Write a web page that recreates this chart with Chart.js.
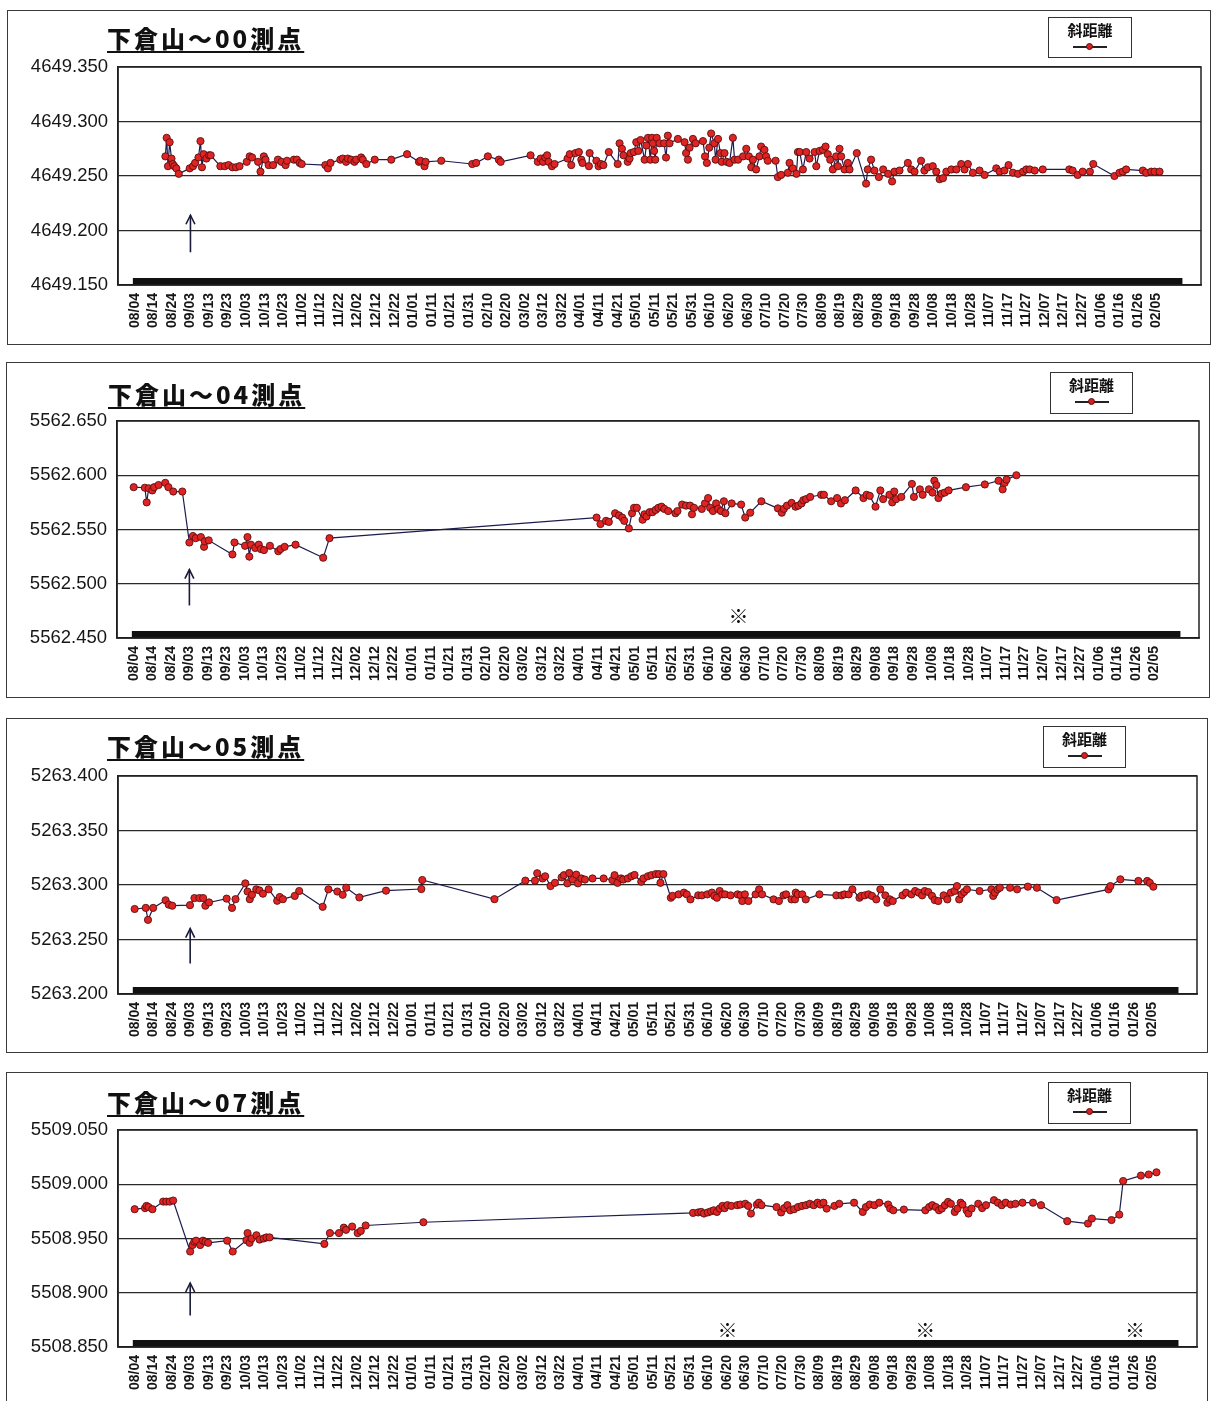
<!DOCTYPE html>
<html><head><meta charset="utf-8">
<script src="https://cdn.jsdelivr.net/npm/chart.js@4.4.1/dist/chart.umd.min.js"></script>
<style>
body{margin:0;background:#fff;width:1212px;height:1401px;position:relative;overflow:hidden;font-family:"Liberation Sans",Arial,sans-serif}
.frame{position:absolute;border:1.5px solid #3a3a3a;box-sizing:border-box;pointer-events:none}
canvas{position:absolute}
.title{position:absolute;font-family:"Noto Sans CJK JP",sans-serif;font-weight:900;font-size:24px;letter-spacing:3px;text-decoration:underline;text-decoration-thickness:2px;text-underline-offset:3px;color:#111;line-height:1;white-space:nowrap}
.legend{position:absolute;border:1.5px solid #333;background:#fff;box-sizing:border-box}
.legend .lt{position:absolute;left:0;right:0;top:4px;text-align:center;font-family:"Noto Sans CJK JP",sans-serif;font-weight:700;font-size:15px;line-height:1;color:#111}
.legend .ll{position:absolute;left:24px;width:34px;top:28px;height:1.5px;background:#222}
.legend .ld{position:absolute;left:37px;top:25px;width:7px;height:7px;border-radius:50%;background:#d82020;border:1px solid #5a1010;box-sizing:border-box}
</style></head>
<body>
<script>
// ---------- data ----------
const dateLabels = ["08/04","08/14","08/24","09/03","09/13","09/23","10/03","10/13","10/23","11/02","11/12","11/22","12/02","12/12","12/22","01/01","01/11","01/21","01/31","02/10","02/20","03/02","03/12","03/22","04/01","04/11","04/21","05/01","05/11","05/21","05/31","06/10","06/20","06/30","07/10","07/20","07/30","08/09","08/19","08/29","09/08","09/18","09/28","10/08","10/18","10/28","11/07","11/17","11/27","12/07","12/17","12/27","01/06","01/16","01/26","02/05"];
const seriesName = "斜距離";
const titles = ["下倉山～00測点","下倉山～04測点","下倉山～05測点","下倉山～07測点"];

const p1YTicks = [4649.150,4649.200,4649.250,4649.300,4649.350];
const p2YTicks = [5562.450,5562.500,5562.550,5562.600,5562.650];
const p3YTicks = [5263.200,5263.250,5263.300,5263.350,5263.400];
const p4YTicks = [5508.850,5508.900,5508.950,5509.000,5509.050];

// days since 08/04
const p1Days = [16.5,17.2,17.9,18.8,19.8,20.5,21.3,22.4,23.7,29.6,31.4,32.5,34.3,35.4,36.2,37.1,38.6,40.0,40.9,46.1,48.5,50.5,52.6,54.5,56.4,60.3,61.9,63.2,66.4,67.7,69.5,70.4,72.1,74.5,77.1,79.0,81.2,82.0,85.7,87.3,88.8,89.9,102.6,104.0,105.4,110.7,112.0,113.8,114.7,116.5,118.3,119.2,121.9,122.8,124.7,129.2,138.1,146.6,153.0,153.8,156.0,156.6,165.0,181.7,183.8,190.1,196.0,197.0,213.1,217.0,218.5,219.8,221.0,222.0,222.8,224.6,226.0,233.0,234.2,235.0,237.2,239.1,240.4,241.0,244.5,244.9,248.5,249.7,251.0,252.3,255.2,260.0,261.0,262.3,263.1,265.4,266.4,267.0,268.7,270.0,271.1,272.3,274.5,275.4,276.3,277.6,278.5,279.0,279.6,280.2,281.0,282.5,285.0,286.0,287.0,287.9,292.4,296.0,296.8,297.8,298.7,300.5,302.0,305.9,307.0,308.0,309.3,310.3,312.0,312.7,314.0,315.3,316.0,317.5,318.7,320.2,322.0,322.9,324.8,327.5,329.2,330.6,331.9,332.8,334.5,336.3,337.2,339.0,339.9,340.8,345.0,346.2,348.0,351.6,352.5,354.3,356.2,357.0,358.0,359.7,361.5,363.3,366.0,366.9,368.7,370.5,371.9,373.1,374.4,375.8,377.6,378.5,379.4,380.3,382.1,383.9,384.8,388.7,393.7,394.6,396.4,398.2,400.6,402.9,405.6,407.7,409.0,411.7,416.2,418.0,419.8,423.3,425.1,427.0,429.6,431.5,433.3,435.1,436.9,439.6,442.3,444.9,446.7,448.5,451.2,454.8,457.5,463.8,465.6,468.2,470.4,472.8,475.5,478.2,480.0,481.8,484.5,488.8,503.1,504.9,507.6,510.3,514.2,516.0,527.4,530.1,531.9,533.7,542.7,544.5,547.2,549.0,551.7];
const p1Vals = [4649.268,4649.285,4649.259,4649.281,4649.266,4649.261,4649.259,4649.257,4649.252,4649.257,4649.259,4649.262,4649.267,4649.282,4649.258,4649.270,4649.266,4649.269,4649.269,4649.259,4649.259,4649.260,4649.258,4649.258,4649.259,4649.263,4649.268,4649.267,4649.263,4649.254,4649.268,4649.265,4649.260,4649.260,4649.265,4649.263,4649.260,4649.264,4649.265,4649.265,4649.262,4649.261,4649.260,4649.257,4649.262,4649.265,4649.266,4649.263,4649.266,4649.265,4649.263,4649.265,4649.267,4649.265,4649.261,4649.265,4649.265,4649.270,4649.263,4649.264,4649.259,4649.263,4649.264,4649.261,4649.262,4649.268,4649.265,4649.263,4649.269,4649.263,4649.266,4649.263,4649.267,4649.269,4649.263,4649.259,4649.261,4649.266,4649.270,4649.260,4649.271,4649.272,4649.265,4649.262,4649.259,4649.271,4649.264,4649.259,4649.261,4649.260,4649.272,4649.261,4649.280,4649.275,4649.269,4649.263,4649.266,4649.271,4649.272,4649.281,4649.273,4649.283,4649.265,4649.278,4649.285,4649.265,4649.285,4649.280,4649.273,4649.265,4649.285,4649.280,4649.280,4649.267,4649.287,4649.280,4649.284,4649.281,4649.271,4649.265,4649.276,4649.284,4649.280,4649.282,4649.268,4649.262,4649.276,4649.289,4649.280,4649.265,4649.284,4649.271,4649.263,4649.271,4649.263,4649.262,4649.285,4649.265,4649.265,4649.268,4649.275,4649.268,4649.258,4649.265,4649.256,4649.268,4649.277,4649.274,4649.268,4649.264,4649.264,4649.249,4649.251,4649.253,4649.262,4649.257,4649.252,4649.272,4649.272,4649.256,4649.272,4649.266,4649.272,4649.259,4649.273,4649.274,4649.277,4649.270,4649.265,4649.256,4649.268,4649.259,4649.275,4649.268,4649.256,4649.262,4649.256,4649.271,4649.243,4649.256,4649.265,4649.255,4649.249,4649.256,4649.252,4649.245,4649.254,4649.255,4649.262,4649.256,4649.254,4649.264,4649.255,4649.258,4649.259,4649.254,4649.247,4649.248,4649.254,4649.256,4649.256,4649.261,4649.256,4649.261,4649.253,4649.255,4649.251,4649.257,4649.254,4649.255,4649.260,4649.253,4649.252,4649.254,4649.256,4649.256,4649.255,4649.256,4649.256,4649.255,4649.251,4649.254,4649.254,4649.261,4649.250,4649.253,4649.254,4649.256,4649.255,4649.253,4649.254,4649.254,4649.254];

const p2Days = [0,6.0,7.0,8.1,10.0,11.0,13.4,17.0,18.7,21.3,26.2,30.0,31.9,33.4,36.2,37.9,38.3,40.4,53.2,54.3,60.0,61.3,62.3,63.2,65.5,67.4,68.5,70.2,73.4,77.9,79.1,81.3,87.2,102.1,105.5,249.4,251.5,254.5,256.0,259.4,261.5,263.2,264.3,266.8,268.5,269.6,271.1,274.2,275.2,276.3,278.0,279.5,281.2,282.7,284.4,285.9,288.0,291.9,293.0,295.5,297.6,299.8,300.8,301.9,306.1,307.8,309.5,310.6,312.1,313.8,314.9,316.4,318.0,318.8,322.2,327.3,329.5,332.2,338.2,347.1,349.2,350.3,352.0,354.5,356.6,358.1,359.8,360.8,362.3,364.5,370.4,371.9,375.8,379.0,381.1,383.2,389.0,393.2,394.9,396.6,399.7,402.3,403.8,407.2,408.7,409.8,410.8,413.6,419.3,420.4,423.6,425.1,428.5,430.4,431.4,432.5,433.6,435.3,437.0,439.1,448.4,458.6,466.0,468.2,469.3,470.3,475.6];
const p2Vals = [5562.589,5562.5885,5562.575,5562.588,5562.586,5562.589,5562.591,5562.593,5562.589,5562.585,5562.585,5562.538,5562.544,5562.542,5562.543,5562.534,5562.539,5562.540,5562.527,5562.538,5562.535,5562.543,5562.525,5562.536,5562.533,5562.536,5562.532,5562.531,5562.535,5562.530,5562.532,5562.534,5562.536,5562.524,5562.542,5562.561,5562.555,5562.558,5562.557,5562.565,5562.563,5562.561,5562.558,5562.551,5562.565,5562.570,5562.570,5562.559,5562.564,5562.562,5562.566,5562.566,5562.568,5562.570,5562.571,5562.569,5562.567,5562.565,5562.567,5562.573,5562.572,5562.572,5562.564,5562.570,5562.569,5562.574,5562.579,5562.570,5562.567,5562.574,5562.569,5562.567,5562.576,5562.565,5562.574,5562.573,5562.561,5562.5655,5562.576,5562.5695,5562.5655,5562.569,5562.572,5562.5745,5562.571,5562.572,5562.574,5562.577,5562.578,5562.580,5562.582,5562.582,5562.576,5562.579,5562.574,5562.577,5562.586,5562.579,5562.582,5562.581,5562.571,5562.586,5562.578,5562.582,5562.575,5562.585,5562.578,5562.580,5562.592,5562.580,5562.587,5562.582,5562.587,5562.584,5562.595,5562.591,5562.579,5562.583,5562.584,5562.586,5562.589,5562.5915,5562.595,5562.587,5562.593,5562.596,5562.600];

const p3Days = [0,6.0,7.2,10.0,16.7,18.4,20.3,29.9,32.3,35.0,37.0,38.2,40.2,49.7,52.6,54.5,59.8,61.0,62.2,63.4,65.7,67.4,69.3,72.4,77.0,78.4,80.1,86.5,88.9,101.6,104.7,109.5,112.4,114.3,121.4,135.8,154.9,155.4,194.4,211.1,216.3,217.5,220.4,221.8,224.7,227.1,230.7,231.9,233.8,234.8,236.7,238.6,239.5,241.4,243.3,247.4,253.4,258.1,259.3,260.9,262.8,264.0,266.4,268.4,270.1,273.7,274.9,277.3,279.2,281.6,283.3,284.1,285.7,289.7,290.6,293.9,296.8,298.3,300.3,304.5,306.5,309.4,311.9,313.2,314.6,316.1,317.5,319.0,322.0,325.8,327.4,328.3,329.7,331.6,335.5,337.4,339.0,345.2,348.1,350.6,352.0,354.9,356.8,357.2,358.3,360.7,362.6,370.0,379.1,382.0,383.5,385.8,387.8,391.6,392.6,394.5,396.5,398.4,400.7,402.9,405.6,406.7,408.1,409.6,414.9,416.8,419.7,421.7,423.6,425.5,426.9,428.8,430.8,432.3,434.2,437.1,439.1,441.0,443.0,444.3,445.5,446.8,448.2,449.7,456.5,462.9,463.9,464.8,466.2,467.5,473.0,476.8,482.6,487.5,498.1,526.2,527.2,532.6,542.3,547.1,548.5,550.4];
const p3Vals = [5263.278,5263.279,5263.268,5263.279,5263.286,5263.282,5263.281,5263.2815,5263.288,5263.288,5263.288,5263.281,5263.284,5263.2875,5263.279,5263.287,5263.3015,5263.294,5263.287,5263.291,5263.296,5263.295,5263.292,5263.296,5263.2855,5263.289,5263.287,5263.290,5263.2945,5263.280,5263.296,5263.294,5263.291,5263.2975,5263.2886,5263.2948,5263.2963,5263.3046,5263.287,5263.304,5263.304,5263.3108,5263.306,5263.308,5263.299,5263.302,5263.307,5263.309,5263.3015,5263.311,5263.305,5263.3095,5263.3015,5263.306,5263.305,5263.306,5263.306,5263.3045,5263.309,5263.302,5263.306,5263.305,5263.306,5263.308,5263.3092,5263.303,5263.306,5263.308,5263.309,5263.310,5263.310,5263.302,5263.310,5263.2883,5263.290,5263.2914,5263.293,5263.2914,5263.2868,5263.2905,5263.2905,5263.2914,5263.293,5263.290,5263.2883,5263.2945,5263.2914,5263.2914,5263.2905,5263.2914,5263.2905,5263.2853,5263.2914,5263.2853,5263.2914,5263.296,5263.2914,5263.2868,5263.2853,5263.2905,5263.2914,5263.2868,5263.2868,5263.293,5263.2914,5263.2914,5263.2868,5263.2914,5263.2905,5263.2905,5263.2914,5263.2914,5263.296,5263.2883,5263.290,5263.2905,5263.2914,5263.290,5263.2868,5263.296,5263.2905,5263.2837,5263.2868,5263.2853,5263.2905,5263.293,5263.2914,5263.2945,5263.293,5263.2905,5263.2945,5263.2936,5263.290,5263.2862,5263.2853,5263.2905,5263.2868,5263.293,5263.2945,5263.299,5263.2868,5263.2914,5263.2936,5263.296,5263.2945,5263.296,5263.290,5263.293,5263.296,5263.2975,5263.2975,5263.296,5263.2985,5263.2975,5263.2862,5263.296,5263.299,5263.3052,5263.3037,5263.3037,5263.302,5263.2985];

const p4Days = [0,5.6,6.4,7.5,9.6,15.4,17.1,18.9,20.8,30.0,31.3,32.2,33.2,35.4,36.9,38.2,39.7,50.0,53.0,60.4,61.0,62.1,63.2,65.8,67.5,69.7,71.2,72.9,102.5,105.5,110.4,113.0,114.2,117.5,120.5,122.2,124.8,156.0,301.7,304.5,306.1,307.6,309.7,311.4,312.9,314.6,316.1,317.6,318.8,320.3,322.4,325.6,327.3,329.9,331.5,333.0,336.2,337.3,338.7,346.8,349.3,351.0,352.7,354.2,356.3,358.4,360.6,362.7,364.8,366.9,369.0,370.5,372.2,373.9,378.1,380.7,388.7,393.4,395.1,397.2,399.7,402.3,407.1,408.2,409.9,415.6,427.2,429.3,431.0,432.9,434.6,436.1,437.8,439.5,441.0,443.1,444.6,446.3,447.3,449.5,450.5,452.2,455.8,457.9,460.0,464.3,466.4,468.5,470.6,473.4,475.9,479.7,485.4,489.7,503.9,515.1,517.2,527.8,532.0,534.1,543.7,547.9,552.1];
const p4Vals = [5508.977,5508.978,5508.980,5508.979,5508.977,5508.984,5508.984,5508.984,5508.985,5508.938,5508.944,5508.947,5508.948,5508.944,5508.948,5508.947,5508.946,5508.948,5508.938,5508.9485,5508.955,5508.946,5508.950,5508.953,5508.949,5508.950,5508.951,5508.951,5508.945,5508.955,5508.955,5508.960,5508.958,5508.961,5508.955,5508.957,5508.962,5508.965,5508.9736,5508.974,5508.9745,5508.973,5508.974,5508.975,5508.976,5508.9745,5508.9776,5508.980,5508.978,5508.9807,5508.980,5508.9807,5508.9813,5508.982,5508.980,5508.973,5508.9813,5508.983,5508.9807,5508.979,5508.974,5508.978,5508.9807,5508.976,5508.977,5508.979,5508.980,5508.9807,5508.982,5508.9807,5508.983,5508.9813,5508.983,5508.9776,5508.980,5508.982,5508.983,5508.9745,5508.979,5508.9813,5508.9807,5508.983,5508.9813,5508.9776,5508.976,5508.9767,5508.976,5508.979,5508.9807,5508.979,5508.976,5508.9776,5508.9807,5508.9837,5508.982,5508.9745,5508.9776,5508.983,5508.9813,5508.976,5508.973,5508.9776,5508.982,5508.978,5508.9807,5508.9853,5508.983,5508.9807,5508.983,5508.9813,5508.982,5508.983,5508.983,5508.9807,5508.966,5508.9638,5508.9684,5508.967,5508.972,5509.003,5509.008,5509.009,5509.011];

// annotations (day on x axis, values on y axis)
const arrowDay = [30, 30, 30, 30];
const arrowFrom = [4649.180, 5562.480, 5263.228, 5508.879];
const arrowTo   = [4649.214, 5562.513, 5263.260, 5508.909];
const noteMarkDays = [[], [325.9], [], [320.3, 427.2, 540.5]];
const noteMarkVal  = [null, 5562.4695, null, 5508.8656];
const baseBarDays = [-1, 564];

// ---------- layout (page pixels) ----------
const panels = [
  {box:{l:7,t:10,w:1204,h:335}, plot:{l:118,t:67,r:1201,b:285}, title:{l:107,t:26}, legend:{l:1048,t:17,w:84,h:41}},
  {box:{l:6,t:362,w:1204,h:336}, plot:{l:117,t:421,r:1199,b:638}, title:{l:108,t:382}, legend:{l:1050,t:372,w:83,h:42}},
  {box:{l:6,t:718,w:1202,h:335}, plot:{l:118,t:776,r:1197,b:994}, title:{l:107,t:734}, legend:{l:1043,t:726,w:83,h:42}},
  {box:{l:6,t:1072,w:1202,h:335}, plot:{l:118,t:1130,r:1197,b:1347}, title:{l:107,t:1090}, legend:{l:1048,t:1082,w:83,h:42}}
];
const daysArr = [p1Days,p2Days,p3Days,p4Days];
const valsArr = [p1Vals,p2Vals,p3Vals,p4Vals];
const yTicksArr = [p1YTicks,p2YTicks,p3YTicks,p4YTicks];

const decorPlugin = {
  id:'decor',
  beforeDatasetsDraw(chart){
    const {ctx, chartArea:a, scales:{x,y}} = chart;
    const i = chart.options.plugins.decor.idx;
    // black base bar
    ctx.save();
    ctx.fillStyle = '#111';
    const x0 = x.getPixelForValue(baseBarDays[0]), x1 = x.getPixelForValue(baseBarDays[1]);
    ctx.fillRect(x0, a.bottom-7, x1-x0, 7);
    ctx.restore();
  },
  afterDatasetsDraw(chart){
    const {ctx, chartArea:a, scales:{x,y}} = chart;
    const i = chart.options.plugins.decor.idx;
    ctx.save();
    // frame
    ctx.strokeStyle = '#222'; ctx.lineWidth = 1.5;
    ctx.strokeRect(a.left, a.top, a.right-a.left, a.bottom-a.top);
    // arrow
    const ax = x.getPixelForValue(arrowDay[i]);
    const yb = y.getPixelForValue(arrowFrom[i]), yt = y.getPixelForValue(arrowTo[i]);
    ctx.strokeStyle = '#1a1a3a'; ctx.lineWidth = 1.6;
    ctx.beginPath(); ctx.moveTo(ax, yb); ctx.lineTo(ax, yt); ctx.stroke();
    ctx.beginPath(); ctx.moveTo(ax-4.5, yt+9); ctx.lineTo(ax, yt); ctx.lineTo(ax+4.5, yt+9); ctx.stroke();
    // note marks
    ctx.fillStyle = '#111';
    ctx.font = 'bold 20px "Noto Sans CJK JP"';
    ctx.textAlign = 'center'; ctx.textBaseline = 'middle';
    noteMarkDays[i].forEach(d => ctx.fillText('※', x.getPixelForValue(d), y.getPixelForValue(noteMarkVal[i])));
    ctx.restore();
  }
};

panels.forEach((p, i) => {
  const cv = document.createElement('canvas');
  cv.width = p.box.w; cv.height = p.box.h;
  cv.style.left = p.box.l + 'px'; cv.style.top = p.box.t + 'px';
  document.body.appendChild(cv);
  const fr = document.createElement('div');
  fr.className = 'frame';
  Object.assign(fr.style, {left:p.box.l+'px', top:p.box.t+'px', width:p.box.w+'px', height:p.box.h+'px'});
  document.body.appendChild(fr);

  const t = document.createElement('div');
  t.className = 'title'; t.textContent = titles[i];
  t.style.left = p.title.l + 'px'; t.style.top = p.title.t + 'px';
  document.body.appendChild(t);

  const lg = document.createElement('div');
  lg.className = 'legend';
  Object.assign(lg.style, {left:p.legend.l+'px', top:p.legend.t+'px', width:p.legend.w+'px', height:p.legend.h+'px'});
  lg.innerHTML = '<div class="lt">'+seriesName+'</div><div class="ll"></div><div class="ld"></div>';
  document.body.appendChild(lg);

  const yW = p.plot.l - p.box.l;
  const xH = p.box.t + p.box.h - p.plot.b;
  const yt = yTicksArr[i];
  const data = daysArr[i].map((d, k) => ({x:d, y:valsArr[i][k]}));

  new Chart(cv, {
    type:'line',
    data:{datasets:[{
      label: seriesName, data,
      borderColor:'#1c1c4e', borderWidth:1.2,
      pointRadius:3.6, pointBackgroundColor:'#e02424', pointBorderColor:'#5a1010', pointBorderWidth:0.9,
      tension:0, fill:false
    }]},
    options:{
      responsive:false, animation:false,
      layout:{padding:{top:p.plot.t-p.box.t, right:p.box.l+p.box.w-p.plot.r, left:0, bottom:0}},
      plugins:{legend:{display:false}, title:{display:false}, tooltip:{enabled:false}, decor:{idx:i}},
      scales:{
        x:{
          type:'linear', min:-9, max:574,
          afterBuildTicks: s => { s.ticks = dateLabels.map((_, k) => ({value:k*10})); },
          afterFit: s => { s.height = xH; },
          grid:{display:false, drawTicks:false},
          border:{display:true, color:'#111', width:1.5},
          ticks:{autoSkip:false, maxRotation:90, minRotation:90, padding:8,
            font:{family:'"Liberation Sans"', size:14, weight:'bold'}, color:'#161616',
            callback: v => dateLabels[Math.round(v/10)]}
        },
        y:{
          type:'linear', min:yt[0], max:yt[yt.length-1],
          afterBuildTicks: s => { s.ticks = yt.map(v => ({value:v})); },
          afterFit: s => { s.width = yW; },
          grid:{color:'#2a2a2a', lineWidth:1.3, drawTicks:false},
          border:{display:true, color:'#111', width:1.5},
          ticks:{padding:10, font:{family:'"Liberation Sans"', size:18.5}, color:'#161616',
            callback: v => Number(v).toFixed(3)}
        }
      }
    },
    plugins:[decorPlugin]
  });
});
</script>
</body></html>
